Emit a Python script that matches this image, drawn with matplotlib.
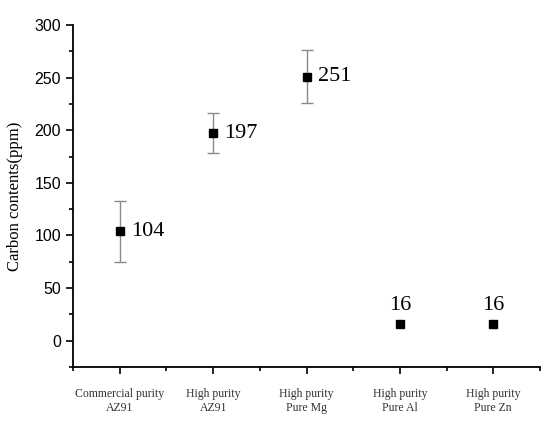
import matplotlib.pyplot as plt
import numpy as np

# Data
categories = ['Commercial purity\nAZ91', 'High purity\nAZ91', 'High purity\nPure Mg',
              'High purity\nPure Al', 'High purity\nPure Zn']
carbon = [104, 197, 251, 16, 16]
errors = [29, 19, 25.5, 0, 0]
labels = ['104', '197', '251', '16', '16']

fig = plt.figure(figsize=(5.5, 4.26), dpi=100)
ax = fig.add_axes([73 / 550, 1 - 367 / 426, (540 - 73) / 550, (367 - 25) / 426])

x = np.arange(1, len(carbon) + 1)
carbon_arr = np.array(carbon, dtype=float)
err_arr = np.array(errors, dtype=float)
has_err = err_arr > 0
ax.errorbar(x[has_err], carbon_arr[has_err], yerr=err_arr[has_err], fmt='none',
            ecolor='#8a8a8a', elinewidth=1, capsize=4, capthick=1)
ax.plot(x, carbon, 's', color='black', markersize=6, linestyle='none')

for xi, yi, lab in zip(x, carbon, labels):
    if yi > 50:
        ax.text(xi + 0.12, yi, lab, fontsize=16, family='Liberation Serif',
                va='center', ha='left')
    else:
        ax.text(xi, yi + 8, lab, fontsize=16, family='Liberation Serif',
                va='bottom', ha='center')

ax.set_xlim(0.5, 5.5)
ax.set_ylim(-25, 300)
ax.set_yticks([0, 50, 100, 150, 200, 250, 300])
ax.set_yticks(np.arange(-25, 301, 25), minor=True)
ax.set_xticks(x)
ax.set_xticks(np.arange(0.5, 5.6, 1), minor=True)
ax.set_xticklabels(categories, fontsize=8.5, family='Liberation Serif', color='#333333')
for t in ax.get_yticklabels():
    t.set_family('Liberation Sans')
    t.set_fontsize(11.5)
ax.tick_params(which='major', direction='out', length=5, width=1.2)
ax.tick_params(which='minor', direction='out', length=3, width=1.2)
ax.tick_params(axis='x', pad=10)

ax.spines['top'].set_visible(False)
ax.spines['right'].set_visible(False)
ax.spines['left'].set_linewidth(1.3)
ax.spines['bottom'].set_linewidth(1.3)

ax.set_ylabel('Carbon contents(ppm)', fontsize=12, family='Liberation Serif', labelpad=8)

fig.savefig('out.png', dpi=100)
